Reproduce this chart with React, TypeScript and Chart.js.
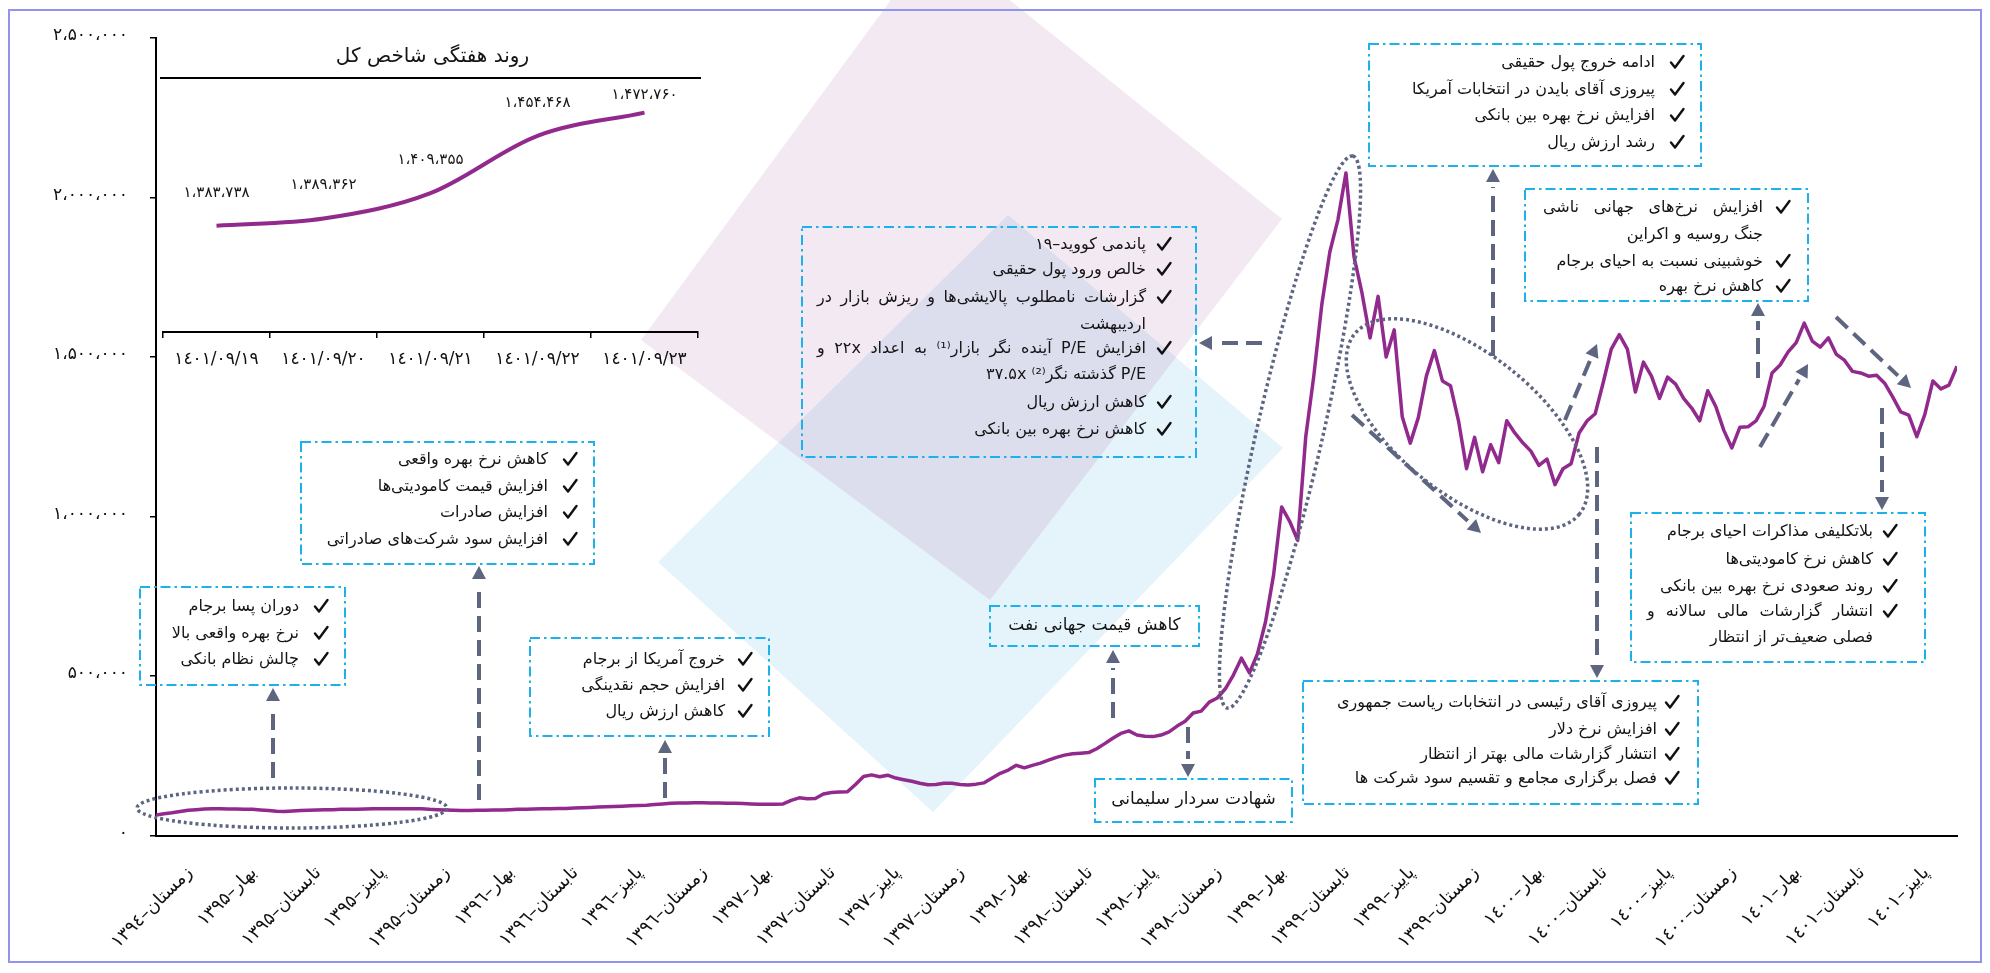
import React, { useEffect, useRef } from 'react';
import { Chart, registerables } from 'chart.js';

Chart.register(...registerables);

// ---------- DATA ----------
const seasonLabels = [
  'زمستان–۱۳۹٤', 'بهار–۱۳۹۵', 'تابستان–۱۳۹۵', 'پاییز–۱۳۹۵', 'زمستان–۱۳۹۵',
  'بهار–۱۳۹٦', 'تابستان–۱۳۹٦', 'پاییز–۱۳۹٦', 'زمستان–۱۳۹٦',
  'بهار–۱۳۹۷', 'تابستان–۱۳۹۷', 'پاییز–۱۳۹۷', 'زمستان–۱۳۹۷',
  'بهار–۱۳۹۸', 'تابستان–۱۳۹۸', 'پاییز–۱۳۹۸', 'زمستان–۱۳۹۸',
  'بهار–۱۳۹۹', 'تابستان–۱۳۹۹', 'پاییز–۱۳۹۹', 'زمستان–۱۳۹۹',
  'بهار–۱٤۰۰', 'تابستان–۱٤۰۰', 'پاییز–۱٤۰۰', 'زمستان–۱٤۰۰',
  'بهار–۱٤۰۱', 'تابستان–۱٤۰۱', 'پاییز–۱٤۰۱',
];

// Total index (TEDPIX), thousands of points, 8 readings per season
const tedpixThousands = [
  64, 68, 71, 75, 79, 81, 83, 84, 84, 83,
  83, 82, 82, 80, 78, 76, 75, 77, 78, 79,
  80, 81, 81, 82, 82, 82, 83, 84, 84, 84,
  84, 84, 84, 84, 82, 81, 80, 79, 78, 78,
  79, 79, 80, 80, 81, 82, 82, 83, 84, 84,
  85, 85, 86, 87, 88, 89, 90, 91, 92, 93,
  94, 95, 97, 99, 101, 102, 102, 103, 103, 102,
  102, 101, 101, 100, 99, 98, 98, 98, 99, 110,
  118, 115, 116, 130, 135, 136, 137, 160, 185, 190,
  184, 189, 180, 175, 170, 164, 159, 160, 164, 164,
  160, 158, 161, 165, 180, 195, 205, 220, 212, 220,
  227, 236, 245, 252, 256, 258, 260, 272, 288, 305,
  320, 328, 315, 311, 310, 315, 325, 343, 358, 384,
  390, 418, 431, 460, 503, 556, 510, 570, 670, 817,
  1030, 985, 925, 1250, 1440, 1665, 1830, 1930, 2077, 1815,
  1700, 1560, 1690, 1500, 1585, 1313, 1230, 1310, 1440, 1520,
  1425, 1410, 1300, 1150, 1248, 1140, 1225, 1169, 1300, 1262,
  1231, 1205, 1160, 1180, 1100, 1150, 1165, 1262, 1300, 1322,
  1420, 1525, 1570, 1525, 1390, 1484, 1440, 1370, 1437, 1415,
  1370, 1340, 1300, 1394, 1345, 1270, 1215, 1280, 1281, 1300,
  1345, 1450, 1475, 1516, 1545, 1606, 1550, 1531, 1560, 1508,
  1490, 1455, 1450, 1440, 1443, 1418, 1375, 1328, 1318, 1250,
  1320, 1425, 1400, 1412, 1471,
];

const yTickValues = [0, 500000, 1000000, 1500000, 2000000, 2500000];

const weekDates = ['۱٤۰۱/۰۹/۱۹', '۱٤۰۱/۰۹/۲۰', '۱٤۰۱/۰۹/۲۱', '۱٤۰۱/۰۹/۲۲', '۱٤۰۱/۰۹/۲۳'];
const weekValues = [1383738, 1389362, 1409355, 1454468, 1472760];
const insetTitle = 'روند هفتگی شاخص کل';

// ---------- ANNOTATIONS (layout) ----------
type Ln = { t: string; c?: boolean; j?: boolean };
type Box = { l: number; t: number; r: number; b: number; cx: number; tx: number; jl?: number; fs: number; ys: number[]; lines: Ln[]; center?: boolean };

const boxes: Box[] = [
  { l: 140, t: 587, r: 345, b: 685, cx: 24, tx: 46, fs: 16, ys: [607, 634, 660], lines: [
    { t: 'دوران پسا برجام', c: true }, { t: 'نرخ بهره واقعی بالا', c: true }, { t: 'چالش نظام بانکی', c: true }] },
  { l: 301, t: 442, r: 594, b: 564, cx: 24, tx: 46, fs: 16, ys: [460, 487, 513, 540], lines: [
    { t: 'کاهش نرخ بهره واقعی', c: true }, { t: 'افزایش قیمت کامودیتی‌ها', c: true }, { t: 'افزایش صادرات', c: true }, { t: 'افزایش سود شرکت‌های صادراتی', c: true }] },
  { l: 530, t: 638, r: 769, b: 736, cx: 24, tx: 44, fs: 16, ys: [660, 686, 712], lines: [
    { t: 'خروج آمریکا از برجام', c: true }, { t: 'افزایش حجم نقدینگی', c: true }, { t: 'کاهش ارزش ریال', c: true }] },
  { l: 990, t: 606, r: 1199, b: 646, cx: 0, tx: 0, fs: 17, ys: [626], center: true, lines: [{ t: 'کاهش قیمت جهانی نفت' }] },
  { l: 1095, t: 779, r: 1292, b: 822, cx: 0, tx: 0, fs: 17, ys: [800], center: true, lines: [{ t: 'شهادت سردار سلیمانی' }] },
  { l: 1303, t: 681, r: 1698, b: 804, cx: 26, tx: 41, fs: 16, ys: [703, 730, 755, 779], lines: [
    { t: 'پیروزی آقای رئیسی در انتخابات ریاست جمهوری', c: true }, { t: 'افزایش نرخ دلار', c: true },
    { t: 'انتشار گزارشات مالی بهتر از انتظار', c: true }, { t: 'فصل برگزاری مجامع و تقسیم سود شرکت ها', c: true }] },
  { l: 1369, t: 44, r: 1701, b: 166, cx: 24, tx: 46, fs: 16, ys: [63, 90, 116, 143], lines: [
    { t: 'ادامه خروج پول حقیقی', c: true }, { t: 'پیروزی آقای بایدن در انتخابات آمریکا', c: true },
    { t: 'افزایش نرخ بهره بین بانکی', c: true }, { t: 'رشد ارزش ریال', c: true }] },
  { l: 1525, t: 189, r: 1808, b: 301, cx: 25, tx: 45, jl: 1543, fs: 16, ys: [208, 235, 262, 287], lines: [
    { t: 'افزایش نرخ‌های جهانی ناشی', c: true, j: true }, { t: 'جنگ روسیه و اکراین' },
    { t: 'خوشبینی نسبت به احیای برجام', c: true }, { t: 'کاهش نرخ بهره', c: true }] },
  { l: 1631, t: 513, r: 1925, b: 662, cx: 35, tx: 52, jl: 1647, fs: 16, ys: [532, 560, 587, 612, 638], lines: [
    { t: 'بلاتکلیفی مذاکرات احیای برجام', c: true }, { t: 'کاهش نرخ کامودیتی‌ها', c: true },
    { t: 'روند صعودی نرخ بهره بین بانکی', c: true }, { t: 'انتشار گزارشات مالی سالانه و', c: true, j: true },
    { t: 'فصلی ضعیف‌تر از انتظار' }] },
  { l: 802, t: 227, r: 1196, b: 457, cx: 32, tx: 50, jl: 817, fs: 16, ys: [245, 270, 298, 325, 349, 375, 403, 430], lines: [
    { t: 'پاندمی کووید–۱۹', c: true }, { t: 'خالص ورود پول حقیقی', c: true },
    { t: 'گزارشات نامطلوب پالایشی‌ها و ریزش بازار در', c: true, j: true }, { t: 'اردیبهشت' },
    { t: 'افزایش P/E آینده نگر بازار⁽¹⁾ به اعداد ۲۲x و', c: true, j: true }, { t: 'P/E گذشته نگر⁽²⁾ ۳۷.۵x' },
    { t: 'کاهش ارزش ریال', c: true }, { t: 'کاهش نرخ بهره بین بانکی', c: true }] },
];

const arrows: number[][] = [
  [273, 778, 273, 688], [479, 800, 479, 566], [665, 798, 665, 740], [1113, 718, 1113, 650],
  [1188, 727, 1188, 777], [1262, 343, 1199, 343], [1352, 415, 1481, 533], [1493, 356, 1493, 169],
  [1565, 420, 1597, 344], [1597, 447, 1597, 678], [1758, 378, 1758, 303], [1760, 447, 1808, 364],
  [1836, 317, 1911, 388], [1882, 408, 1882, 510],
];

const ellipses: number[][] = [
  [292, 808, 155, 20, 0],
  [1290, 432, 283, 33, -1.347],
  [1467, 424, 144, 70, 0.674],
];

const faDigits = '۰۱۲۳۴۵۶۷۸۹';
const toFa = (n: number) =>
  Math.round(n).toLocaleString('en-US').replace(/\d/g, (d) => faDigits[+d]).replace(/,/g, '،');

const FONT = '"DejaVu Sans"';
const PURPLE = '#922a8e';
const SLATE = '#5d6580';

function drawArrow(ctx: CanvasRenderingContext2D, x1: number, y1: number, x2: number, y2: number) {
  const ang = Math.atan2(y2 - y1, x2 - x1);
  const head = 13, hw = 7;
  const bx = x2 - head * Math.cos(ang), by = y2 - head * Math.sin(ang);
  ctx.save();
  ctx.strokeStyle = SLATE;
  ctx.fillStyle = SLATE;
  ctx.lineWidth = 4;
  ctx.setLineDash([16, 8]);
  ctx.beginPath();
  ctx.moveTo(x1, y1);
  ctx.lineTo(x2 - (head + 5) * Math.cos(ang), y2 - (head + 5) * Math.sin(ang));
  ctx.stroke();
  ctx.setLineDash([]);
  ctx.beginPath();
  ctx.moveTo(x2, y2);
  ctx.lineTo(bx + hw * Math.sin(ang), by - hw * Math.cos(ang));
  ctx.lineTo(bx - hw * Math.sin(ang), by + hw * Math.cos(ang));
  ctx.closePath();
  ctx.fill();
  ctx.restore();
}

function drawCheck(ctx: CanvasRenderingContext2D, cx: number, cy: number) {
  ctx.save();
  ctx.strokeStyle = '#111';
  ctx.lineWidth = 2.4;
  ctx.lineCap = 'round';
  ctx.lineJoin = 'round';
  ctx.beginPath();
  ctx.moveTo(cx - 6, cy + 0.5);
  ctx.lineTo(cx - 2, cy + 5.5);
  ctx.lineTo(cx + 6.5, cy - 6);
  ctx.stroke();
  ctx.restore();
}

function drawBox(ctx: CanvasRenderingContext2D, b: Box) {
  ctx.save();
  ctx.strokeStyle = '#1db1ec';
  ctx.lineWidth = 2;
  ctx.setLineDash([10, 4, 2.5, 4]);
  ctx.strokeRect(b.l, b.t, b.r - b.l, b.b - b.t);
  ctx.setLineDash([]);
  ctx.fillStyle = '#141414';
  ctx.textBaseline = 'middle';
  b.lines.forEach((ln, i) => {
    const y = b.ys[i];
    if (b.center) {
      ctx.font = `${b.fs}px ${FONT}`;
      ctx.direction = 'rtl';
      ctx.textAlign = 'center';
      ctx.fillText(ln.t, (b.l + b.r) / 2, y);
      return;
    }
    if (ln.c) drawCheck(ctx, b.r - b.cx, y - 1);
    ctx.font = `${b.fs}px ${FONT}`;
    ctx.direction = 'rtl';
    ctx.textAlign = 'right';
    const xr = b.r - b.tx;
    if (ln.j && b.jl) {
      const words = ln.t.split(' ');
      const widths = words.map((w) => ctx.measureText(w).width);
      const total = widths.reduce((a, c) => a + c, 0);
      const gap = (xr - b.jl - total) / (words.length - 1);
      let x = xr;
      words.forEach((w, k) => {
        ctx.fillText(w, x, y);
        x -= widths[k] + gap;
      });
    } else {
      ctx.fillText(ln.t, xr, y);
    }
  });
  ctx.restore();
}

const decorPlugin = {
  id: 'decor',
  beforeDraw(chart: any) {
    const ctx: CanvasRenderingContext2D = chart.ctx;
    ctx.save();
    ctx.fillStyle = '#ffffff';
    ctx.fillRect(0, 0, chart.width, chart.height);
    // faded logo watermark
    ctx.fillStyle = 'rgba(125, 195, 232, 0.2)';
    ctx.beginPath();
    ctx.moveTo(1008, 215); ctx.lineTo(1283, 448); ctx.lineTo(933, 812); ctx.lineTo(658, 562);
    ctx.closePath(); ctx.fill();
    ctx.fillStyle = 'rgba(175, 110, 170, 0.15)';
    ctx.beginPath();
    ctx.moveTo(935, -60); ctx.lineTo(1282, 219); ctx.lineTo(990, 600); ctx.lineTo(641, 340);
    ctx.closePath(); ctx.fill();
    // frame
    ctx.strokeStyle = '#9393ef';
    ctx.lineWidth = 2;
    ctx.strokeRect(9, 10, 1972, 952);
    ctx.restore();
  },
  afterDatasetsDraw(chart: any) {
    const ctx: CanvasRenderingContext2D = chart.ctx;
    ctx.save();
    ctx.strokeStyle = SLATE;
    ctx.lineWidth = 3.5;
    ctx.setLineDash([3, 3]);
    ellipses.forEach(([cx, cy, rx, ry, rot]) => {
      ctx.beginPath();
      ctx.ellipse(cx, cy, rx, ry, rot, 0, Math.PI * 2);
      ctx.stroke();
    });
    ctx.restore();
    arrows.forEach(([a, b, c, d]) => drawArrow(ctx, a, b, c, d));
    boxes.forEach((b) => drawBox(ctx, b));
  },
};

const insetPlugin = {
  id: 'insetDecor',
  afterDatasetsDraw(chart: any) {
    const ctx: CanvasRenderingContext2D = chart.ctx;
    const area = chart.chartArea;
    ctx.save();
    ctx.strokeStyle = '#000';
    ctx.lineWidth = 2;
    ctx.beginPath();
    ctx.moveTo(area.left - 3, area.top);
    ctx.lineTo(area.right + 3, area.top);
    ctx.stroke();
    ctx.fillStyle = '#141414';
    ctx.font = `20px ${FONT}`;
    ctx.direction = 'rtl';
    ctx.textAlign = 'center';
    ctx.textBaseline = 'middle';
    ctx.fillText(insetTitle, (area.left + area.right) / 2 + 2, area.top - 21);
    ctx.direction = 'ltr';
    ctx.font = `15px ${FONT}`;
    const meta = chart.getDatasetMeta(0);
    meta.data.forEach((pt: any, i: number) => {
      const y = Math.max(pt.y - 33, area.top + 17);
      ctx.fillText(toFa(weekValues[i]), pt.x, y);
    });
    ctx.restore();
  },
};

export default function App() {
  const mainRef = useRef<HTMLCanvasElement>(null);
  const insetRef = useRef<HTMLCanvasElement>(null);

  useEffect(() => {
    if (!mainRef.current || !insetRef.current) return;
    const main = new Chart(mainRef.current, {
      type: 'line',
      data: {
        datasets: [{
          data: tedpixThousands.map((v, i) => ({ x: i, y: v * 1000 })),
          borderColor: PURPLE,
          borderWidth: 3.5,
          pointRadius: 0,
          tension: 0,
          borderJoinStyle: 'round',
        }],
      },
      options: {
        animation: false,
        responsive: false,
        devicePixelRatio: 1,
        layout: { padding: { left: 0, right: 33, top: 38, bottom: 0 } },
        plugins: { legend: { display: false }, tooltip: { enabled: false } },
        scales: {
          x: {
            type: 'linear',
            min: 0,
            max: tedpixThousands.length - 1,
            afterBuildTicks: (s: any) => { s.ticks = seasonLabels.map((_, i) => ({ value: 4.2 + 8 * i })); },
            afterFit: (s: any) => { s.height = 137.5; },
            grid: { drawOnChartArea: false, drawTicks: false },
            border: { display: true, color: '#000', width: 2 },
            ticks: {
              autoSkip: false,
              minRotation: 45,
              maxRotation: 45,
              padding: 27,
              color: '#111',
              font: { family: 'DejaVu Sans', size: 18 },
              callback: (_v: any, i: number) => seasonLabels[i] ?? '',
            },
          },
          y: {
            min: 0,
            max: 2500000,
            afterBuildTicks: (s: any) => { s.ticks = yTickValues.map((v) => ({ value: v })); },
            afterFit: (s: any) => { s.width = 156; },
            grid: { drawOnChartArea: false, drawTicks: true, tickLength: 6, color: '#000', lineWidth: 1.5 },
            border: { display: true, color: '#000', width: 2 },
            ticks: {
              padding: 22,
              labelOffset: -2,
              color: '#111',
              font: { family: 'DejaVu Sans', size: 17 },
              callback: (v: any) => toFa(Number(v)),
            },
          },
        },
      },
      plugins: [decorPlugin],
    } as any);

    const inset = new Chart(insetRef.current, {
      type: 'line',
      data: {
        labels: weekDates,
        datasets: [{
          data: weekValues,
          borderColor: PURPLE,
          borderWidth: 4,
          pointRadius: 0,
          cubicInterpolationMode: 'monotone',
        }],
      },
      options: {
        animation: false,
        responsive: false,
        devicePixelRatio: 1,
        layout: { padding: { left: 23, right: 22, top: 48, bottom: 0 } },
        plugins: { legend: { display: false }, tooltip: { enabled: false } },
        scales: {
          x: {
            type: 'category',
            offset: true,
            afterFit: (s: any) => { s.height = 58; },
            grid: { offset: true, drawOnChartArea: false, drawTicks: true, tickLength: 6, color: '#000', lineWidth: 1.5 },
            border: { display: true, color: '#000', width: 2 },
            ticks: { padding: 11, color: '#111', maxRotation: 0, autoSkip: false, font: { family: 'DejaVu Sans', size: 17 } },
          },
          y: { display: false, min: 1300000, max: 1500000 },
        },
      },
      plugins: [insetPlugin],
    } as any);

    return () => { main.destroy(); inset.destroy(); };
  }, []);

  return (
    <div style={{ position: 'fixed', left: 0, top: 0, width: 1990, height: 973, background: '#fff' }}>
      <canvas ref={mainRef} width={1990} height={973} style={{ position: 'absolute', left: 0, top: 0 }} />
      <canvas ref={insetRef} width={580} height={360} style={{ position: 'absolute', left: 140, top: 30 }} />
    </div>
  );
}
